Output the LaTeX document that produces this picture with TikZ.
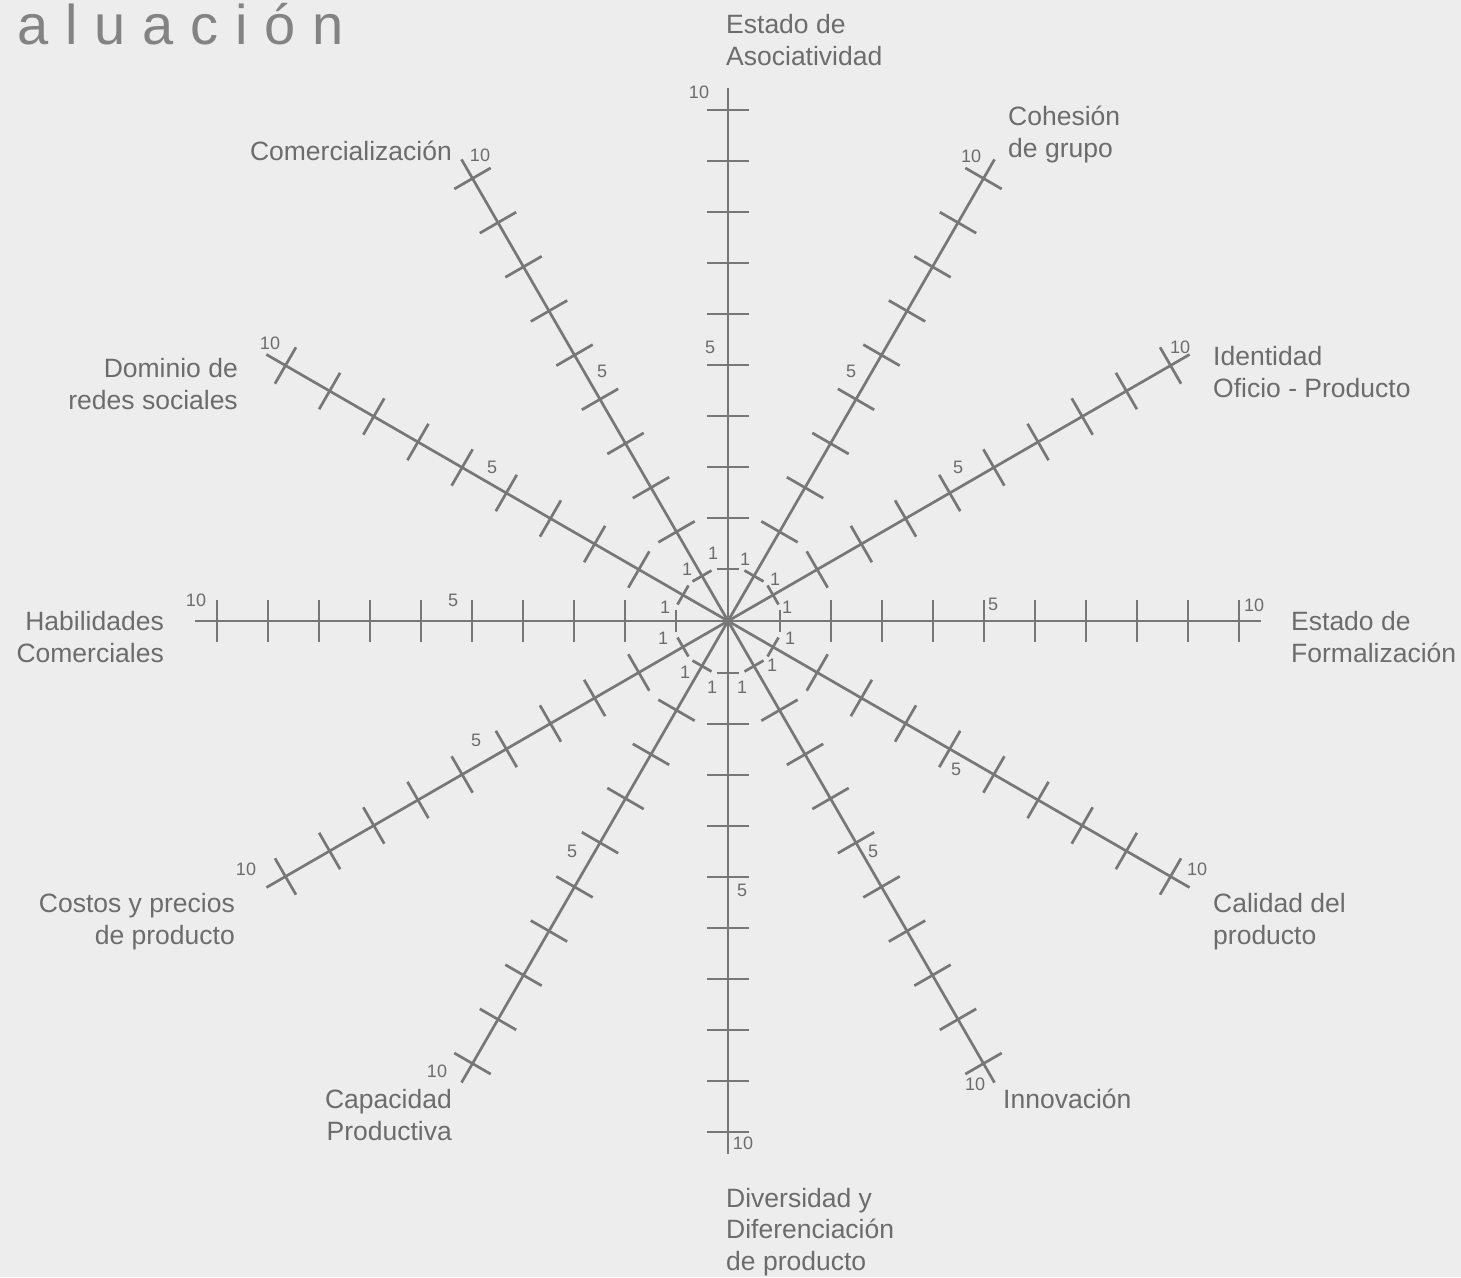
\documentclass[tikz,border=0pt]{standalone}
\usepackage{fontspec}
\setmainfont{Liberation Sans}
\definecolor{bgc}{HTML}{EDEDED}
\definecolor{linec}{HTML}{777777}
\definecolor{textc}{HTML}{6C6C6C}
\definecolor{titlec}{HTML}{838383}
\begin{document}
\begin{tikzpicture}[x=1pt,y=-1pt,
  axisline/.style={draw=linec,line width=2.7pt},
  tickmark/.style={draw=linec,line width=2.7pt},
  cat/.style={text=textc,font=\fontsize{26.5}{31.5}\selectfont,inner sep=0pt},
  num/.style={text=textc,font=\fontsize{18}{18}\selectfont,inner sep=0pt},
  ttl/.style={text=titlec,font=\fontsize{56}{60}\selectfont,inner sep=0pt}]
\fill[bgc] (0,0) rectangle (1461,1277);
\useasboundingbox (0,0) rectangle (1461,1277);
\coordinate (C) at (728,621);
\foreach \a in {0,30,...,330}{
  \begin{scope}[shift={(C)},rotate=\a]
    \draw[axisline] (0,0) -- (533,0);
    \draw[tickmark] (52,-11) -- (52,11);
    \foreach \k in {2,...,10}{
      \draw[tickmark] ({52+51*(\k-1)},-21) -- ({52+51*(\k-1)},21);
    }
  \end{scope}
}
% title
\node[ttl,anchor=base west] (title) at (17,44) {\spaceskip=16.9pt a l u a c i ó n};
% category labels (base = baseline of last line)
\node[cat,align=left,anchor=base west] (asoc) at (726,65) {Estado de\\Asociatividad};
\node[cat,align=left,anchor=base west] (cohe) at (1008,157) {Cohesión\\de grupo};
\node[cat,align=left,anchor=base west] (iden) at (1213,397) {Identidad\\Oficio - Producto};
\node[cat,align=left,anchor=base west] (form) at (1291,662) {Estado de\\Formalización};
\node[cat,align=left,anchor=base west] (cali) at (1213,944) {Calidad del\\producto};
\node[cat,align=left,anchor=base west] (inno) at (1003,1108) {Innovación};
\node[cat,align=left,anchor=base west] (dive) at (726,1270) {Diversidad y\\Diferenciación\\de producto};
\node[cat,align=right,anchor=base east] (capa) at (452,1140) {Capacidad\\Productiva};
\node[cat,align=right,anchor=base east] (cost) at (235,944) {Costos y precios\\de producto};
\node[cat,align=right,anchor=base east] (habi) at (164,662) {Habilidades\\Comerciales};
\node[cat,align=right,anchor=base east] (domi) at (238,409) {Dominio de\\redes sociales};
\node[cat,align=right,anchor=base east] (come) at (452,160) {Comercialización};
% "1" labels
\node[num] (o90) at (713,553) {1};
\node[num] (o60) at (745,559) {1};
\node[num] (o120) at (687,569) {1};
\node[num] (o30) at (775,579) {1};
\node[num] (o150) at (665,607) {1};
\node[num] (o0) at (787,607) {1};
\node[num] (o180) at (663,638) {1};
\node[num] (o330) at (790,638) {1};
\node[num] (o240) at (685,672) {1};
\node[num] (o300) at (772,665) {1};
\node[num] (o270) at (712,687) {1};
\node[num] (o285) at (742,687) {1};
% "5" labels
\node[num] (f90) at (710,347) {5};
\node[num] (f60) at (851,371) {5};
\node[num] (f120) at (602,371) {5};
\node[num] (f30) at (958,467) {5};
\node[num] (f150) at (492,467) {5};
\node[num] (f0) at (993,604) {5};
\node[num] (f180) at (453,600) {5};
\node[num] (f210) at (476,740) {5};
\node[num] (f330) at (956,769) {5};
\node[num] (f240) at (572,851) {5};
\node[num] (f300) at (873,851) {5};
\node[num] (f270) at (742,890) {5};
% "10" labels
\node[num] (t90) at (699,92) {10};
\node[num] (t60) at (971,156) {10};
\node[num] (t120) at (480,155) {10};
\node[num] (t30) at (1180,347) {10};
\node[num] (t150) at (270,343) {10};
\node[num] (t0) at (1254,605) {10};
\node[num] (t180) at (196,600) {10};
\node[num] (t210) at (246,869) {10};
\node[num] (t330) at (1197,869) {10};
\node[num] (t240) at (437,1071) {10};
\node[num] (t300) at (975,1084) {10};
\node[num] (t270) at (743,1143) {10};
\end{tikzpicture}
\end{document}
